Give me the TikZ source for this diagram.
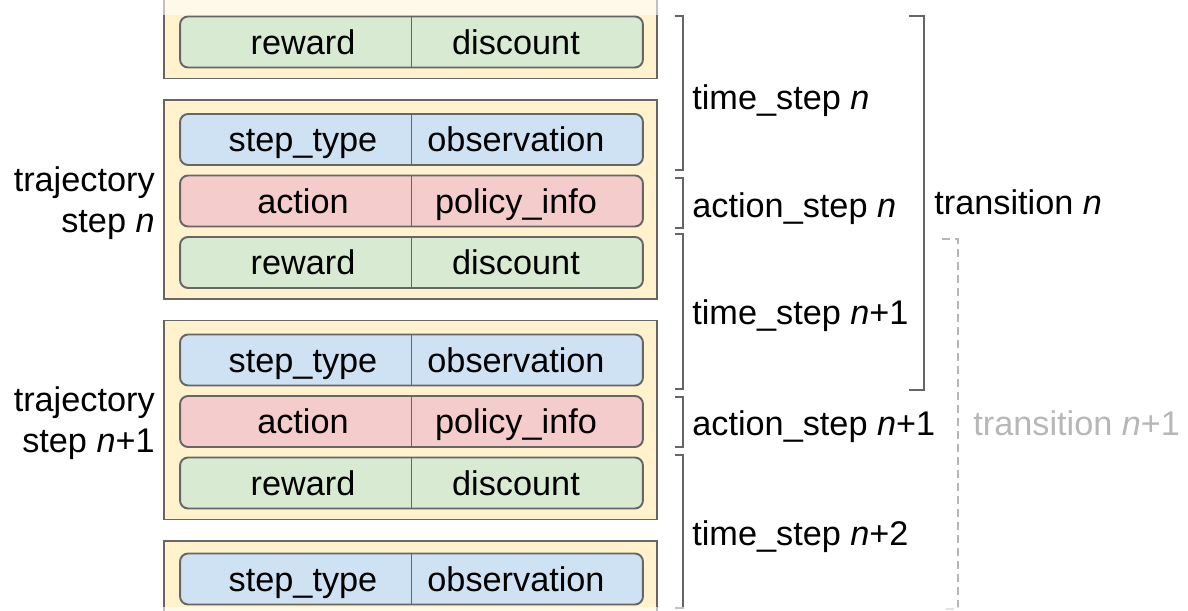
\documentclass[tikz,border=0pt]{standalone}
\usepackage{fontspec}
\setmainfont{Liberation Sans}
\usepackage{xcolor}
\usepackage{tikz}
\usetikzlibrary{calc}
\definecolor{trajfill}{HTML}{FFF2CC}
\definecolor{obsfill}{HTML}{CFE2F3}
\definecolor{actfill}{HTML}{F4CCCC}
\definecolor{rewfill}{HTML}{D9EAD3}
\definecolor{edgegray}{HTML}{666666}
\definecolor{fadegray}{HTML}{B7B7B7}
\newcommand{\nn}{\textit{n}}
% one row of two fields: name, y, fill, left text, right text
\newcommand{\fieldrow}[5]{%
  \node[field, fill=#3] (#1) at (411.5,#2) {};
  \draw[edgegray, line width=1pt] (#1.north) -- (#1.south);
  \node[celltext] (#1l) at (303,#2) {#4};
  \node[celltext] (#1r) at (516,#2) {#5};
}

\begin{document}
\begin{tikzpicture}[
  x=0.02cm, y=-0.02cm,
  every node/.style={font=\fontsize{19.5}{23.4}\selectfont},
  trajbox/.style={draw=edgegray, fill=trajfill, line width=1.1pt,
                  minimum width=9.86cm, minimum height=3.98cm, inner sep=0},
  field/.style={draw=edgegray, rounded corners=0.16cm, line width=1.1pt,
                minimum width=9.26cm, minimum height=1.02cm, inner sep=0},
  celltext/.style={inner sep=0, text height=14pt, text depth=0pt},
  bracket/.style={draw=edgegray, line width=1.1pt},
  lbl/.style={anchor=west, inner sep=0, text height=14pt, text depth=0pt}
]
  \clip (0,0) rectangle (1188,611);

  % trajectory steps
  \node[trajbox] (traj1) at (410.5,-21) {};
  \node[trajbox] (traj2) at (410.5,199.5) {};
  \node[trajbox] (traj3) at (410.5,420) {};
  \node[trajbox] (traj4) at (410.5,640.5) {};

  \fieldrow{rew1}{42}{rewfill}{reward}{discount}
  \fieldrow{obs2}{139.5}{obsfill}{step\_type}{observation}
  \fieldrow{act2}{201}{actfill}{action}{policy\_info}
  \fieldrow{rew2}{262.5}{rewfill}{reward}{discount}
  \fieldrow{obs3}{360}{obsfill}{step\_type}{observation}
  \fieldrow{act3}{421.5}{actfill}{action}{policy\_info}
  \fieldrow{rew3}{483}{rewfill}{reward}{discount}
  \fieldrow{obs4}{579}{obsfill}{step\_type}{observation}

  \node[align=right, anchor=east, inner sep=0] (tj2) at (155,203) {trajectory\\step \nn};
  \node[align=right, anchor=east, inner sep=0] (tj3) at (155,423) {trajectory\\step \nn+1};

  % time / action steps
  \draw[bracket] (675,16) -- (683,16) -- (683,170) -- (675,170);
  \node[lbl] (ts1) at (692,97) {time\_step \nn};
  \draw[bracket] (675,178) -- (683,178) -- (683,228) -- (675,228);
  \node[lbl] (as1) at (692,205) {action\_step \nn};
  \draw[bracket] (675,234) -- (683,234) -- (683,389) -- (675,389);
  \node[lbl] (ts2) at (692,312) {time\_step \nn+1};
  \draw[bracket] (675,397) -- (683,397) -- (683,447) -- (675,447);
  \node[lbl] (as2) at (692,423) {action\_step \nn+1};
  \draw[bracket] (675,455) -- (683,455) -- (683,608) -- (675,608);
  \node[lbl] (ts3) at (692,533) {time\_step \nn+2};

  % transitions
  \draw[bracket] (909,16) -- (924,16) -- (924,390) -- (909,390);
  \node[lbl] (tr1) at (934,202) {transition \nn};
  \draw[draw=fadegray, line width=0.8pt, dash pattern=on 0.16cm off 0.1cm]
    (942,239) -- (958,239) -- (958,609) -- (942,609);
  \node[lbl, text=fadegray] (tr2) at (973,423) {transition \nn+1};

  % faded edges
  \fill[white, fill opacity=0.6] (0,0) rectangle (1188,15);
  \fill[white, fill opacity=0.6] (0,607) rectangle (1188,611);
\end{tikzpicture}
\end{document}
